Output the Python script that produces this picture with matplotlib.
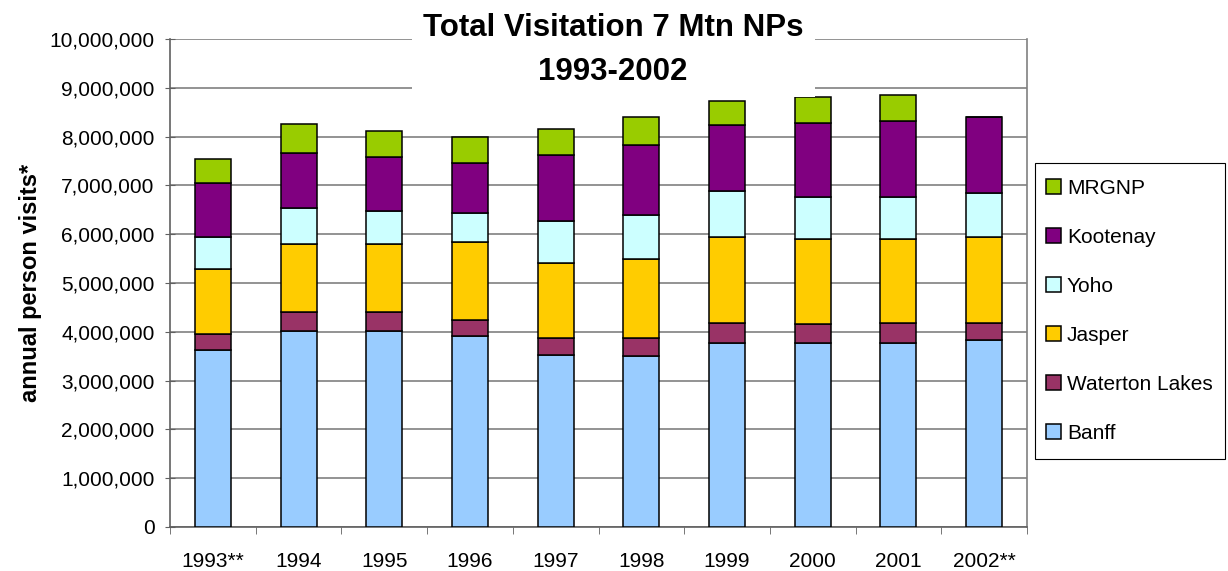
import matplotlib
matplotlib.use('Agg')
import matplotlib.pyplot as plt
from matplotlib.patches import Rectangle
import numpy as np

plt.rcParams['font.family'] = ['Liberation Sans', 'DejaVu Sans']

# Data (millions of visits)
years = ['1993**', '1994', '1995', '1996', '1997', '1998', '1999', '2000', '2001', '2002**']
banff = [3.62, 4.02, 4.02, 3.91, 3.52, 3.50, 3.78, 3.78, 3.78, 3.83]
waterton = [0.33, 0.38, 0.38, 0.34, 0.35, 0.37, 0.41, 0.39, 0.41, 0.36]
jasper = [1.34, 1.39, 1.39, 1.58, 1.55, 1.63, 1.76, 1.74, 1.72, 1.76]
yoho = [0.66, 0.74, 0.69, 0.61, 0.86, 0.90, 0.94, 0.86, 0.86, 0.90]
kootenay = [1.10, 1.13, 1.10, 1.02, 1.34, 1.43, 1.35, 1.51, 1.55, 1.56]
mrgnp = [0.49, 0.59, 0.54, 0.53, 0.53, 0.58, 0.49, 0.53, 0.53, 0.0]

series = [
    ('Banff', banff, '#99CCFF'),
    ('Waterton Lakes', waterton, '#993366'),
    ('Jasper', jasper, '#FFCC00'),
    ('Yoho', yoho, '#CCFFFF'),
    ('Kootenay', kootenay, '#800080'),
    ('MRGNP', mrgnp, '#99CC00'),
]

fig = plt.figure(figsize=(12.28, 5.71), dpi=100)
ax = fig.add_axes([170 / 1228, 1 - 527 / 571, 857 / 1228, 488 / 571])

x = np.arange(len(years))
bottom = np.zeros(len(years))
handles = []
for name, vals, color in series:
    vals = np.array(vals) * 1e6
    b = ax.bar(x, vals, width=0.42, bottom=bottom, color=color,
               edgecolor='black', linewidth=1.1, label=name, zorder=3)
    handles.append(b)
    bottom += vals

ax.set_xlim(-0.5, len(years) - 0.5)
ax.set_ylim(0, 10e6)
yt = np.arange(0, 10e6 + 1, 1e6)
ax.set_yticks(yt)
ax.set_yticklabels([f'{int(v):,}' for v in yt], fontsize=15)
ax.set_xticks(x)
ax.set_xticklabels(years, fontsize=15)
ax.set_xticks(np.arange(-0.5, len(years), 1), minor=True)
ax.tick_params(axis='x', which='major', length=0, pad=18)
ax.tick_params(axis='x', which='minor', length=5, color='#606060', direction='out')
ax.tick_params(axis='y', length=7, color='#606060', direction='inout', pad=7.5)

ax.grid(axis='y', color='#808080', linewidth=1.2, zorder=0)
ax.set_axisbelow(True)
ax.spines['top'].set_visible(False)
ax.spines['right'].set_color('#808080')
ax.spines['left'].set_color('#606060')
ax.spines['bottom'].set_color('#606060')
for s in ax.spines.values():
    s.set_linewidth(1.2)

ax.set_ylabel('annual person visits*', fontsize=17, fontweight='bold')
ax.yaxis.set_label_coords(-128 / 857, 0.5)

# white title box sitting over the plot area
fig.patches.append(Rectangle((412 / 1228, 1 - 97 / 571), 403 / 1228, 97 / 571,
                             transform=fig.transFigure, facecolor='white',
                             edgecolor='none', zorder=5))
fig.text(613 / 1228, 1 - 36 / 571, 'Total Visitation 7 Mtn NPs', ha='center', va='baseline',
         fontsize=22.5, fontweight='bold', zorder=6)
fig.text(613 / 1228, 1 - 80 / 571, '1993-2002', ha='center', va='baseline',
         fontsize=22.5, fontweight='bold', zorder=6)

# legend frame drawn separately so its size matches the original
fig.patches.append(Rectangle((1035 / 1228, 1 - 459 / 571), 190 / 1228, 296 / 571,
                             transform=fig.transFigure, facecolor='white',
                             edgecolor='black', linewidth=0.8, zorder=1))
leg = fig.legend(handles[::-1], [s[0] for s in series][::-1],
                 loc='upper left', bbox_to_anchor=(1046 / 1228, 1 - 179 / 571),
                 fontsize=15, frameon=False,
                 handlelength=0.7, handleheight=0.7, handletextpad=0.3,
                 labelspacing=1.44, borderpad=0, borderaxespad=0)
leg.set_zorder(2)

fig.savefig('out.png', dpi=100)
